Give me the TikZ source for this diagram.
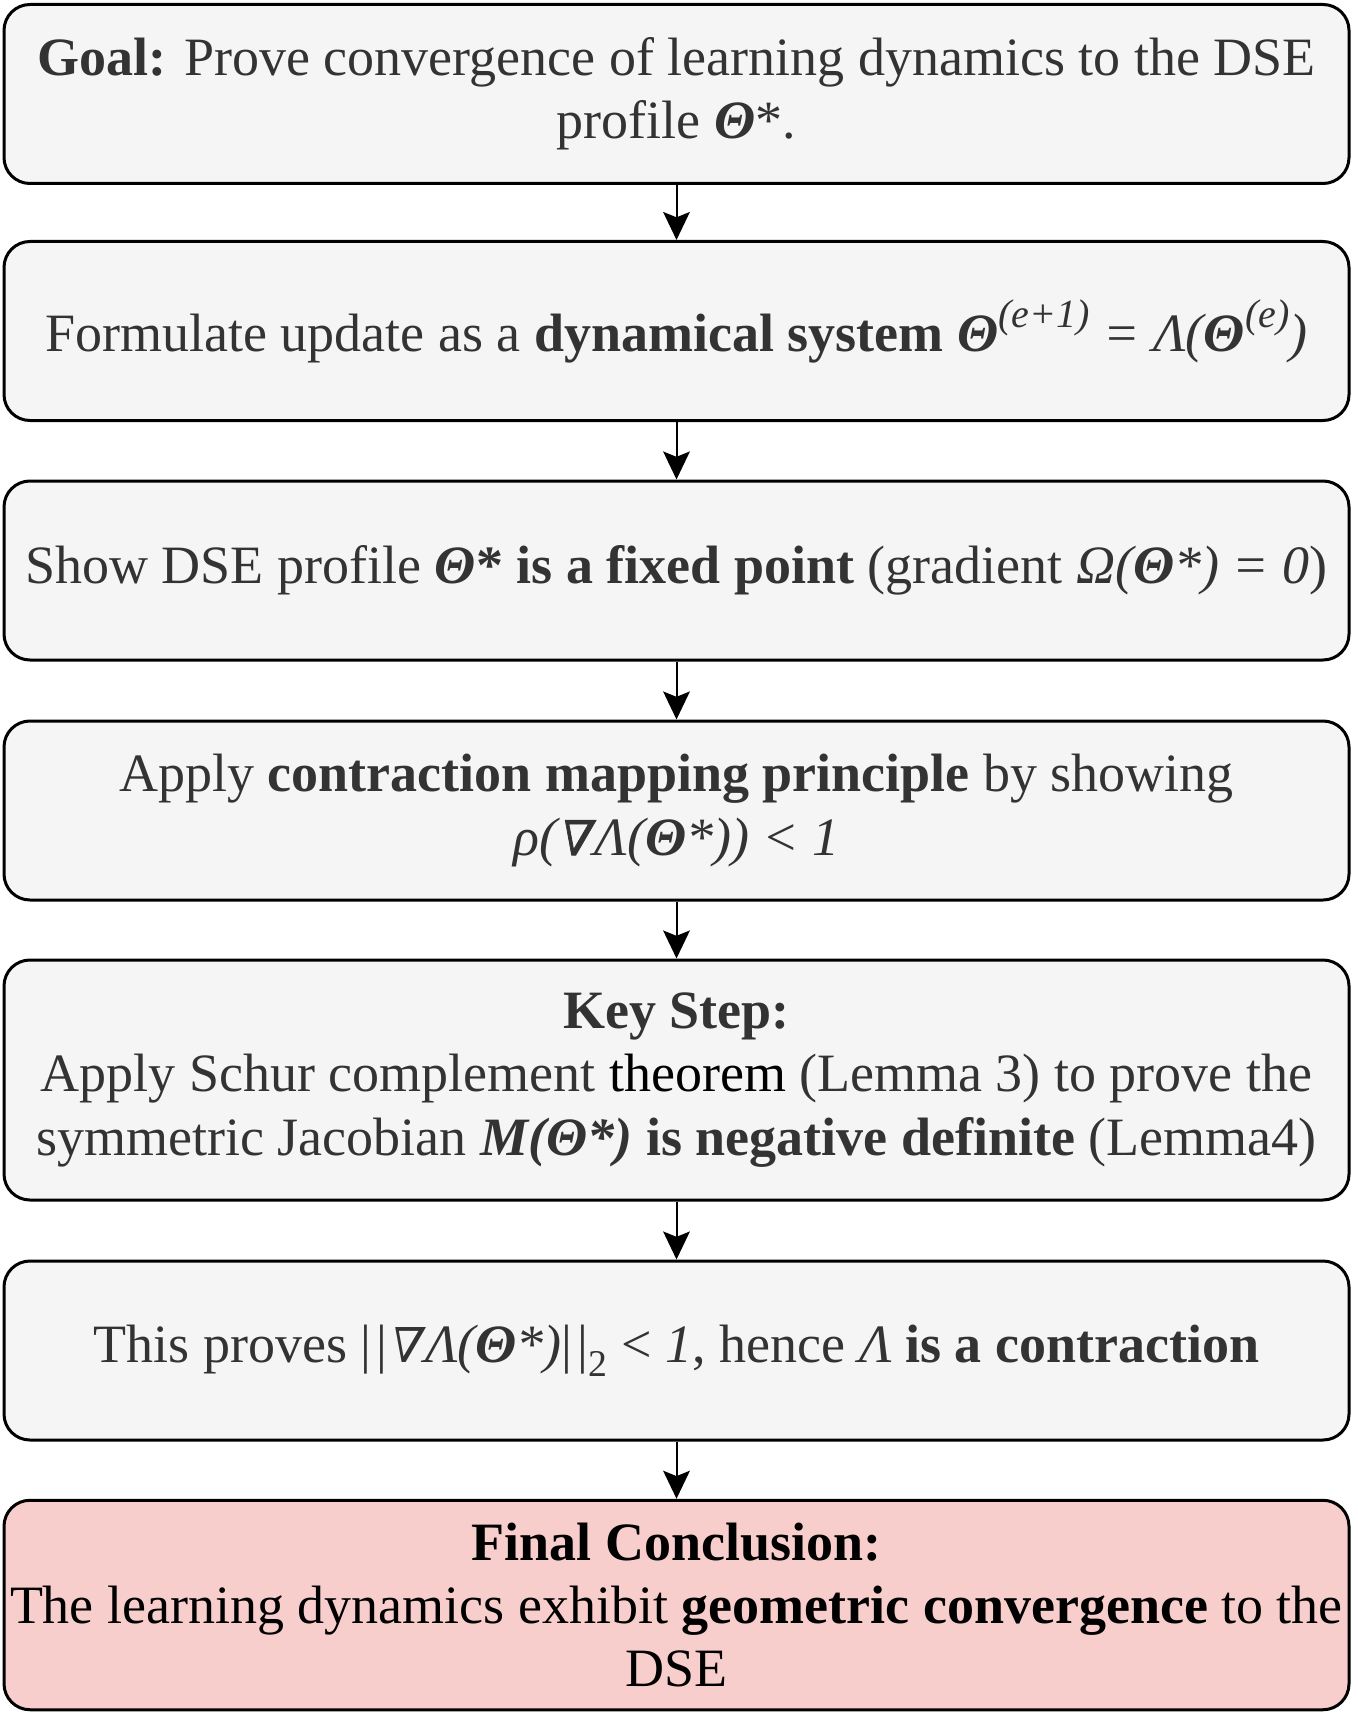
\documentclass[tikz,border=0pt]{standalone}
\usepackage{fontspec}
\setmainfont{Liberation Serif}
\newfontfamily\dvsit[FakeSlant=0.2]{DejaVu Serif}
\newfontfamily\dvsbit[FakeSlant=0.2,FakeBold=1.5]{DejaVu Serif}
\usetikzlibrary{arrows.meta}
\definecolor{boxgray}{HTML}{F5F5F5}
\definecolor{textgray}{HTML}{333333}
\definecolor{finalfill}{HTML}{F8CECC}
\newcommand\mainsize{\fontsize{40.5pt}{47.6pt}\selectfont}
\newcommand\bi[1]{\textbf{\textit{#1}}}
\newcommand\sups[1]{\raisebox{18pt}{\fontsize{30pt}{30pt}\selectfont #1}}
\newcommand\nablasym{{\dvsit\fontsize{36pt}{36pt}\selectfont ∇}\kern3pt}
\newcommand\nablabold{{\dvsbit\fontsize{36pt}{36pt}\selectfont ∇}\kern3pt}
\newcommand\dbar{|\kern4pt|}
\tikzset{
  box/.style={draw=black, line width=2.25pt, rounded corners=19.5pt, fill=boxgray,
    text=textgray, minimum width=1008.75pt, minimum height=134.25pt, align=center,
    font=\mainsize, inner sep=0pt},
  finalbox/.style={box, fill=finalfill, text=black},
  arr/.style={draw=black, line width=1.5pt, -{Stealth[length=21pt, width=20pt, inset=4pt]}}
}
\begin{document}
\begin{tikzpicture}[x=0.75pt, y=-0.75pt]
\useasboundingbox (0,0) rectangle (1358,1715);
\node[box] (b1) at (676.5,94) {\textbf{Goal:} Prove convergence of learning dynamics to the DSE\\ profile \bi{Θ}*.};
\node[box] (b2) at (676.5,331) {Formulate update as a \textbf{dynamical system} \textit{\textbf{Θ}\sups{(e+1)} = Λ(\textbf{Θ}\sups{(e)})}};
\node[box] (b3) at (676.5,570.5) {Show DSE profile \textbf{\textit{Θ}* is a fixed point} (gradient \textit{Ω(\textbf{Θ}*) = 0})};
\node[box] (b4) at (676.5,810.5) {Apply \textbf{contraction mapping principle} by showing\\ \textit{ρ(\nablabold Λ(\textbf{Θ}*)) < 1}};
\node[box, minimum height=180pt] (b5) at (676.5,1080) {\textbf{Key Step:}\\ Apply Schur complement \textcolor{black}{theorem} (Lemma 3) to prove the\\ symmetric Jacobian \bi{M(Θ*)} \textbf{is negative definite} (Lemma4)};
\node[box] (b6) at (676.5,1350.5) {This proves \dbar\textit{\nablasym Λ(\textbf{Θ}*)}\dbar\textsubscript{2} < \textit{1}, hence \textit{Λ} \textbf{is a contraction}};
\node[finalbox, minimum height=157.1pt] (b7) at (676.5,1605) {\textbf{Final Conclusion:}\\ The learning dynamics exhibit \textbf{geometric convergence} to the\\ DSE};
\draw[arr] (b1) -- (b2);
\draw[arr] (b2) -- (b3);
\draw[arr] (b3) -- (b4);
\draw[arr] (b4) -- (b5);
\draw[arr] (b5) -- (b6);
\draw[arr] (b6) -- (b7);
\end{tikzpicture}
\end{document}
